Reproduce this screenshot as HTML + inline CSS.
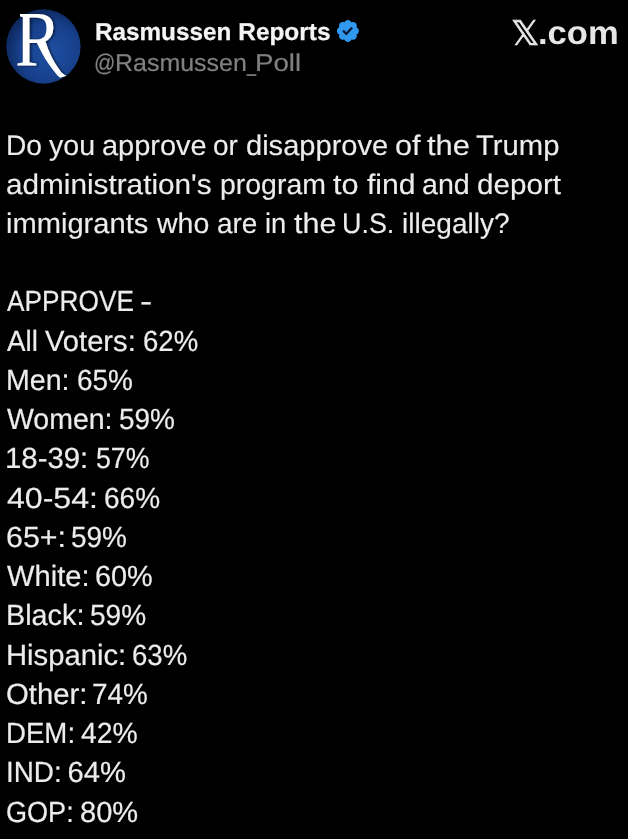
<!DOCTYPE html>
<html><head><meta charset="utf-8">
<style>
html,body{margin:0;padding:0;background:#000;}
body{width:628px;height:839px;overflow:hidden;position:relative;font-family:"Liberation Sans",sans-serif;color:#e7e9ea;}
.ln{height:0;font-size:0;line-height:0;}
.w{position:absolute;white-space:nowrap;transform-origin:0 0;display:block;}
.body{font:normal 28.2px/40px 'Liberation Sans',sans-serif;color:#ececec;-webkit-text-stroke:0.15px #ececec;text-rendering:geometricPrecision;}
.list{font:normal 29.2px/40px 'Liberation Sans',sans-serif;color:#ececec;-webkit-text-stroke:0.2px #ececec;text-rendering:geometricPrecision;}
.name{font:bold 24.4px/40px 'Liberation Sans',sans-serif;color:#f4f4f4;-webkit-text-stroke:0.25px #f4f4f4;text-rendering:geometricPrecision;}
.handle{font:normal 24.3px/40px 'Liberation Sans',sans-serif;color:#808080;-webkit-text-stroke:0.2px #808080;text-rendering:geometricPrecision;}
.com{font:bold 33px/40px 'Liberation Sans',sans-serif;color:#e4e6e7;-webkit-text-stroke:0px #e4e6e7;text-rendering:geometricPrecision;}
.xlogo{font:normal 34px/40px 'DejaVu Sans',sans-serif;color:#e4e6e7;-webkit-text-stroke:0.7px #e4e6e7;text-rendering:geometricPrecision;}
#avatar{position:absolute;left:6px;top:9px;width:75px;height:75px;}
#badge{position:absolute;left:335.1px;top:18.3px;width:25.8px;height:25.8px;}
</style></head><body>
<svg id="avatar" viewBox="0 0 75 75">
<defs><radialGradient id="g" cx="58%" cy="58%" r="58%"><stop offset="0" stop-color="#1e50a4"/><stop offset="0.7" stop-color="#173f8a"/><stop offset="1" stop-color="#0e2a62"/></radialGradient>
<clipPath id="rc"><path d="M14 0H75V33H31V75H0V20H14Z"/></clipPath>
<filter id="sh" x="-20%" y="-20%" width="150%" height="150%"><feDropShadow dx="1.6" dy="0.4" stdDeviation="1" flood-color="#000a24" flood-opacity="0.75"/></filter></defs>
<circle cx="37.4" cy="37.5" r="37.2" fill="url(#g)"/>
<g filter="url(#sh)">
<g clip-path="url(#rc)"><text x="0" y="56.4" font-family="Liberation Serif, serif" font-size="78" fill="#fff" transform="translate(9,0) scale(0.89,1)">R</text></g>
<path d="M30 32C34 40 38 49 42.9 55.2C46.5 60 50 65.5 54 68.8L60.4 66.8C58 65.5 56.5 64.5 54.8 62.4C51 57.5 48 53 45.3 47.3C42.8 42 41 37 39 31Z" fill="#fff"/>
</g>
</svg>
<svg id="badge" viewBox="0 0 24 24"><path fill="#3198f0" d="M22.25 12c0-1.43-.88-2.67-2.19-3.34.46-1.39.2-2.9-.81-3.91s-2.52-1.27-3.91-.81c-.66-1.31-1.91-2.19-3.34-2.19s-2.67.88-3.33 2.19c-1.4-.46-2.91-.2-3.92.81s-1.26 2.52-.8 3.91c-1.31.67-2.2 1.91-2.2 3.34s.89 2.67 2.2 3.34c-.46 1.39-.21 2.9.8 3.91s2.52 1.26 3.91.81c.67 1.31 1.91 2.19 3.34 2.19s2.68-.88 3.34-2.19c1.39.45 2.9.2 3.91-.81s1.27-2.52.81-3.91c1.31-.67 2.19-1.91 2.19-3.34z"/><path fill="#0b1b33" d="M10.54 16.2l-3.74-3.74 1.41-1.42 2.26 2.26 4.8-5.23 1.47 1.36z"/></svg>
<div class="ln"><span class="w body" style="left:6.00px;top:125px;transform:scaleX(1.0000)">Do</span> <span class="w body" style="left:49.00px;top:125px;transform:scaleX(1.0136)">you</span> <span class="w body" style="left:102.17px;top:125px;transform:scaleX(1.0280)">approve</span> <span class="w body" style="left:213.21px;top:125px;transform:scaleX(0.9917)">or</span> <span class="w body" style="left:246.17px;top:125px;transform:scaleX(1.0309)">disapprove</span> <span class="w body" style="left:394.61px;top:125px;transform:scaleX(1.0870)">of</span> <span class="w body" style="left:427.40px;top:125px;transform:scaleX(1.0947)">the</span> <span class="w body" style="left:476.00px;top:125px;transform:scaleX(1.0375)">Trump</span></div>
<div class="ln"><span class="w body" style="left:6.15px;top:164px;transform:scaleX(1.0549)">administration's</span> <span class="w body" style="left:219.89px;top:164px;transform:scaleX(1.0087)">program</span> <span class="w body" style="left:333.00px;top:164px;transform:scaleX(1.0870)">to</span> <span class="w body" style="left:366.60px;top:164px;transform:scaleX(1.0682)">find</span> <span class="w body" style="left:422.19px;top:164px;transform:scaleX(1.0133)">and</span> <span class="w body" style="left:477.45px;top:164px;transform:scaleX(1.0506)">deport</span></div>
<div class="ln"><span class="w body" style="left:6.47px;top:203px;transform:scaleX(1.0324)">immigrants</span> <span class="w body" style="left:157.20px;top:203px;transform:scaleX(1.0118)">who</span> <span class="w body" style="left:216.91px;top:203px;transform:scaleX(0.9923)">are</span> <span class="w body" style="left:265.23px;top:203px;transform:scaleX(0.9700)">in</span> <span class="w body" style="left:294.00px;top:203px;transform:scaleX(1.0842)">the</span> <span class="w body" style="left:342.39px;top:203px;transform:scaleX(0.9549)">U.S.</span> <span class="w body" style="left:402.00px;top:203px;transform:scaleX(0.9953)">illegally?</span></div>
<div class="ln"><span class="w list" style="left:6.70px;top:282px;transform:scaleX(0.8993)">APPROVE</span> <span class="w list" style="left:139.75px;top:282px;transform:scaleX(1.2500)">-</span></div>
<div class="ln"><span class="w list" style="left:6.70px;top:322px;transform:scaleX(0.9516)">All</span> <span class="w list" style="left:45.10px;top:322px;transform:scaleX(0.9989)">Voters:</span> <span class="w list" style="left:143.06px;top:322px;transform:scaleX(0.9439)">62%</span></div>
<div class="ln"><span class="w list" style="left:6.04px;top:361px;transform:scaleX(0.9787)">Men:</span> <span class="w list" style="left:76.64px;top:361px;transform:scaleX(0.9579)">65%</span></div>
<div class="ln"><span class="w list" style="left:6.70px;top:400px;transform:scaleX(0.9755)">Women:</span> <span class="w list" style="left:118.84px;top:400px;transform:scaleX(0.9579)">59%</span></div>
<div class="ln"><span class="w list" style="left:5.49px;top:439px;transform:scaleX(1.0063)">18-39:</span> <span class="w list" style="left:95.78px;top:439px;transform:scaleX(0.9158)">57%</span></div>
<div class="ln"><span class="w list" style="left:6.70px;top:479px;transform:scaleX(1.0988)">40-54:</span> <span class="w list" style="left:103.74px;top:479px;transform:scaleX(0.9596)">66%</span></div>
<div class="ln"><span class="w list" style="left:5.96px;top:518px;transform:scaleX(1.0407)">65+:</span> <span class="w list" style="left:71.34px;top:518px;transform:scaleX(0.9579)">59%</span></div>
<div class="ln"><span class="w list" style="left:6.70px;top:557px;transform:scaleX(0.9975)">White:</span> <span class="w list" style="left:94.61px;top:557px;transform:scaleX(0.9895)">60%</span></div>
<div class="ln"><span class="w list" style="left:6.03px;top:596px;transform:scaleX(0.9867)">Black:</span> <span class="w list" style="left:90.24px;top:596px;transform:scaleX(0.9614)">59%</span></div>
<div class="ln"><span class="w list" style="left:6.00px;top:636px;transform:scaleX(1.0009)">Hispanic:</span> <span class="w list" style="left:132.15px;top:636px;transform:scaleX(0.9456)">63%</span></div>
<div class="ln"><span class="w list" style="left:6.00px;top:675px;transform:scaleX(1.0026)">Other:</span> <span class="w list" style="left:92.45px;top:675px;transform:scaleX(0.9544)">74%</span></div>
<div class="ln"><span class="w list" style="left:6.11px;top:714px;transform:scaleX(0.9464)">DEM:</span> <span class="w list" style="left:81.00px;top:714px;transform:scaleX(0.9707)">42%</span></div>
<div class="ln"><span class="w list" style="left:6.09px;top:753px;transform:scaleX(0.9537)">IND:</span> <span class="w list" style="left:67.60px;top:753px;transform:scaleX(1.0000)">64%</span></div>
<div class="ln"><span class="w list" style="left:5.77px;top:793px;transform:scaleX(0.9271)">GOP:</span> <span class="w list" style="left:79.50px;top:793px;transform:scaleX(0.9965)">80%</span></div>
<div class="ln"><span class="w name" style="left:95.11px;top:13px;transform:scaleX(0.9948)">Rasmussen</span> <span class="w name" style="left:238.30px;top:13px;transform:scaleX(1.0000)">Reports</span></div>
<div class="ln"><span class="w handle" style="left:93.97px;top:44px;transform:scaleX(0.8667)">@</span><span class="w handle" style="left:114.64px;top:44px;transform:scaleX(1.0280)">Rasmussen</span><span class="w handle" style="left:246.57px;top:44px;transform:scaleX(0.6667)">_</span><span class="w handle" style="left:254.62px;top:44px;transform:scaleX(1.1378)">Poll</span></div>
<div class="ln"><span class="w xlogo" style="left:510.76px;top:14px;transform:scaleX(1.0360)">𝕏</span><span class="w com" style="left:537.60px;top:13px;transform:scaleX(1.0479)">.com</span></div>
</body></html>
